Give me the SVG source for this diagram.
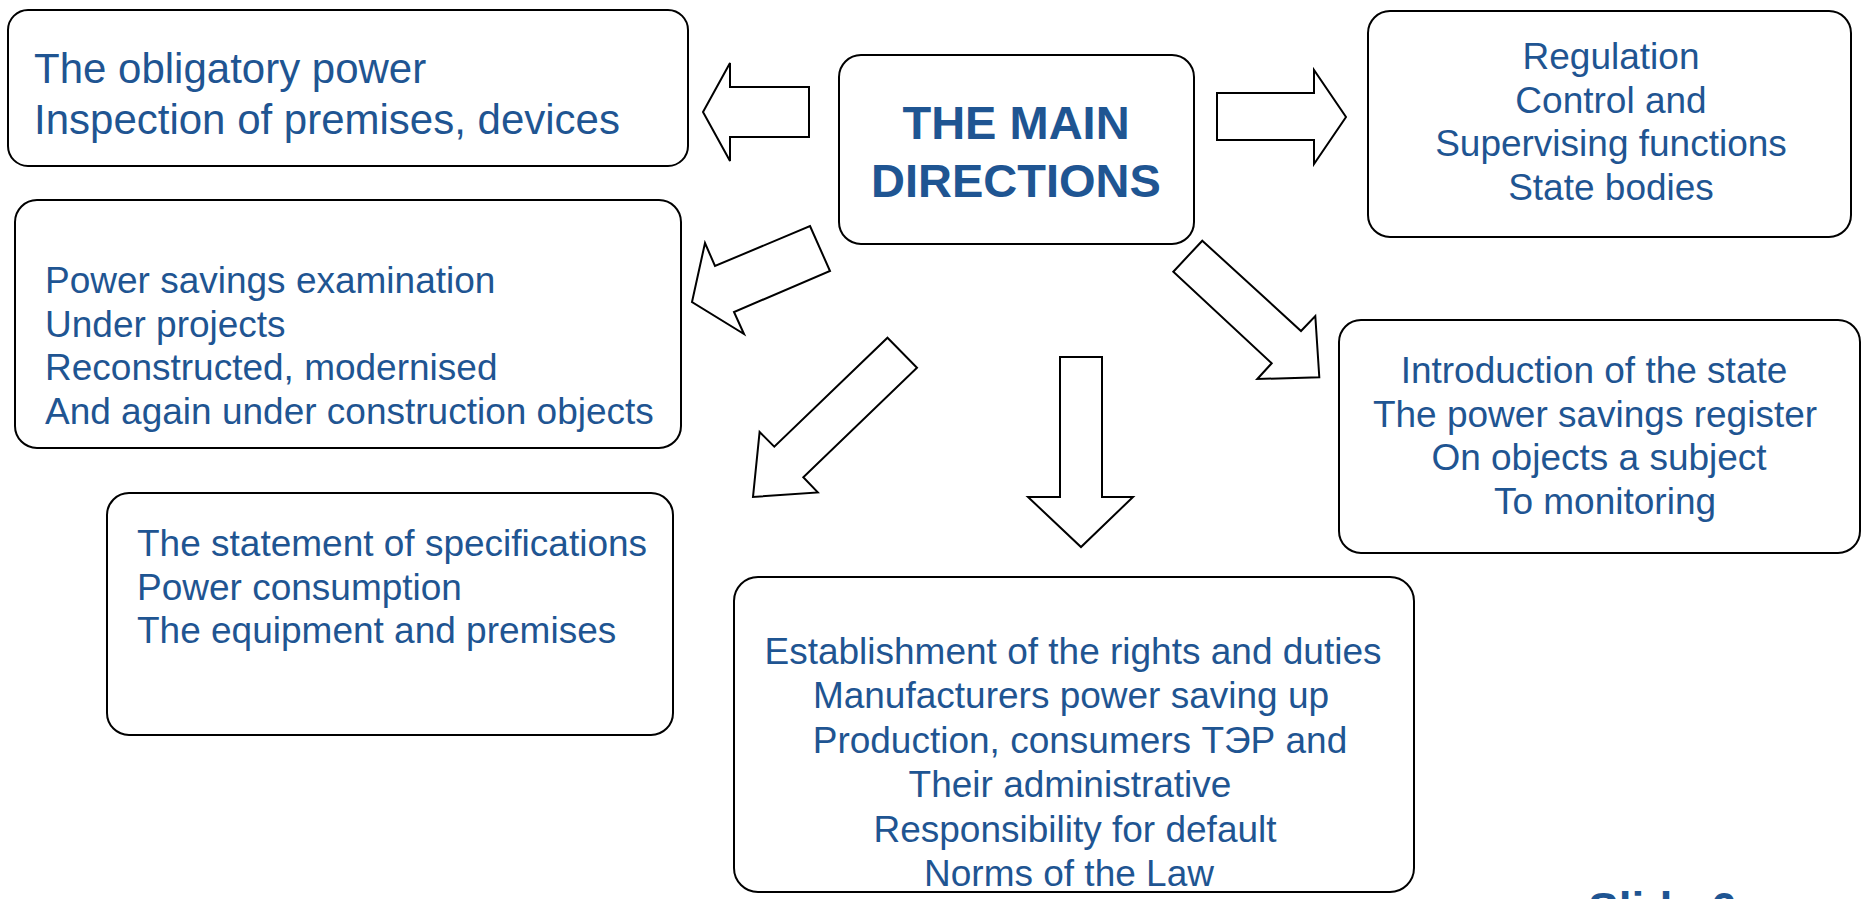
<svg xmlns="http://www.w3.org/2000/svg" width="1864" height="899" viewBox="0 0 1864 899">
<style>
.box{fill:#fff;stroke:#000;stroke-width:2}
.arr{fill:#fff;stroke:#000;stroke-width:2;stroke-linejoin:miter}
.t{font-family:"Liberation Sans",Arial,sans-serif;font-size:37px;fill:#1F5592}
.t1{font-family:"Liberation Sans",Arial,sans-serif;font-size:42px;fill:#1F5592}
.title{font-family:"Liberation Sans",Arial,sans-serif;font-size:47px;font-weight:bold;fill:#1F5592;text-anchor:middle}
.c{text-anchor:middle}
</style>
<rect width="1864" height="899" fill="#fff"/>
<g id="connectors">
<polygon class="arr" points="809,87 730,87 730,63 703,112 730,161 730,137 809,137"/>
<polygon class="arr" points="1217,93 1314,93 1314,70 1346,117 1314,164 1314,140 1217,140"/>
<polygon class="arr" points="810,226 830,271 734,312 744,334 692,302 705,243 715,266"/>
<polygon class="arr" points="887.5,337.7 917,367.7 803.3,477.3 817.8,492.4 753,497 759.6,432 774.3,446.7"/>
<polygon class="arr" points="1060,357 1102,357 1102,497 1133,497 1081,547 1028,497 1060,497"/>
<polygon class="arr" points="1202.3,240.7 1301,331 1315.3,316 1319.3,377.3 1257.3,379 1271.7,363.3 1173.3,271.7"/>
</g>
<g id="main">
<rect class="box" x="839" y="55" width="355" height="189" rx="22"/>
<text class="title" x="1016" y="139">THE MAIN</text>
<text class="title" x="1016" y="197">DIRECTIONS</text>
</g>
<g id="obligatory">
<rect class="box" x="8" y="10" width="680" height="156" rx="20"/>
<text class="t1" x="34" y="83">The obligatory power</text>
<text class="t1" x="34" y="134">Inspection of premises, devices</text>
</g>
<g id="examination">
<rect class="box" x="15" y="200" width="666" height="248" rx="22"/>
<text class="t" x="45" y="293">Power savings examination</text>
<text class="t" x="45" y="336.5">Under projects</text>
<text class="t" x="45" y="380">Reconstructed, modernised</text>
<text class="t" x="45" y="423.5">And again under construction objects</text>
</g>
<g id="specifications">
<rect class="box" x="107" y="493" width="566" height="242" rx="22"/>
<text class="t" x="137" y="556">The statement of specifications</text>
<text class="t" x="137" y="600">Power consumption</text>
<text class="t" x="137" y="643">The equipment and premises</text>
</g>
<g id="rights">
<rect class="box" x="734" y="577" width="680" height="315" rx="24"/>
<text class="t c" x="1073" y="664">Establishment of the rights and duties</text>
<text class="t c" x="1071" y="708">Manufacturers power saving up</text>
<text class="t c" x="1080" y="753">Production, consumers ТЭР and</text>
<text class="t c" x="1070" y="797">Their administrative</text>
<text class="t c" x="1075" y="842">Responsibility for default</text>
<text class="t c" x="1069" y="886">Norms of the Law</text>
</g>
<g id="regulation">
<rect class="box" x="1368" y="11" width="483" height="226" rx="22"/>
<text class="t c" x="1611" y="69">Regulation</text>
<text class="t c" x="1611" y="113">Control and</text>
<text class="t c" x="1611" y="156">Supervising functions</text>
<text class="t c" x="1611" y="200">State bodies</text>
</g>
<g id="register">
<rect class="box" x="1339" y="320" width="521" height="233" rx="22"/>
<text class="t c" x="1594" y="383">Introduction of the state</text>
<text class="t c" x="1595" y="427">The power savings register</text>
<text class="t c" x="1599" y="470">On objects a subject</text>
<text class="t c" x="1605" y="514">To monitoring</text>
</g>
<text x="1588" y="925" font-family="Liberation Sans,Arial,sans-serif" font-size="46" font-weight="bold" fill="#1F5592">Slide 6</text>
</svg>
